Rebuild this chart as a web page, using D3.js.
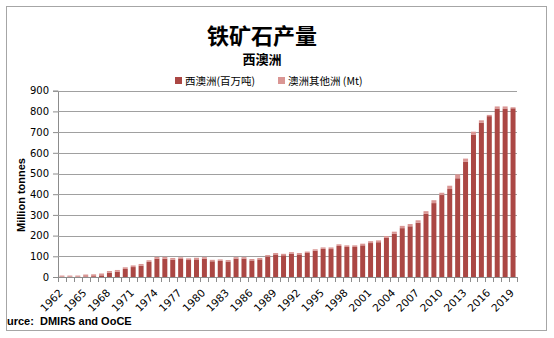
<!DOCTYPE html>
<html>
<head>
<meta charset="utf-8">
<script src="https://cdn.jsdelivr.net/npm/d3@7"></script>
<style>
  html, body { margin: 0; padding: 0; background: #fff; }
  svg { display: block; }
</style>
</head>
<body>
<svg id="chart" width="554" height="338"></svg>
<script>
// Iron ore production, Mt
const years = [1962,1963,1964,1965,1966,1967,1968,1969,1970,1971,1972,1973,1974,1975,1976,1977,1978,1979,1980,
  1981,1982,1983,1984,1985,1986,1987,1988,1989,1990,1991,1992,1993,1994,1995,1996,1997,1998,1999,2000,
  2001,2002,2003,2004,2005,2006,2007,2008,2009,2010,2011,2012,2013,2014,2015,2016,2017,2018,2019];

const waProduction = [1,1,1,3,4,8,21,26,39,48,55,73,88,88,84,87,82,85,88,
  76,78,75,89,89,80,85,99,109,105,113,109,116,127,136,135,150,145,145,153,
  164,168,189,209,236,245,262,305,357,396,425,477,556,688,746,777,814,814,815];

const otherStates = [6,6,6,9,9,9,8,8,8,8,8,8,9,9,8,8,8,8,8,
  7,7,7,7,7,7,7,7,7,7,7,7,7,7,7,8,8,8,8,8,
  9,9,9,10,11,11,12,13,14,11,16,19,16,14,11,6,10,10,5];

const seriesNames = ["西澳洲(百万吨)", "澳洲其他洲 (Mt)"];
const seriesColors = ["#AB4744", "#DA9694"];
const yTicks = [0,100,200,300,400,500,600,700,800,900];
const xTickLabels = [1962,1965,1968,1971,1974,1977,1980,1983,1986,1989,1992,1995,1998,2001,2004,2007,2010,2013,2016,2019];

const svg = d3.select("#chart");
const plot = { left: 58, right: 517, top: 90.7, bottom: 277 };

// outer frame
svg.append("rect")
  .attr("x", 6.5).attr("y", 6.5).attr("width", 540).attr("height", 324)
  .attr("fill", "#fff").attr("stroke", "#A6A6A6").attr("stroke-width", 1);

const x = d3.scaleBand()
  .domain(years)
  .range([plot.left, plot.right])
  .paddingInner(0.37)
  .paddingOuter(0.185);

const y = d3.scaleLinear().domain([0, 900]).range([plot.bottom, plot.top]);

// y axis with tick labels
const yAxis = svg.append("g")
  .attr("transform", `translate(${plot.left},0)`)
  .call(d3.axisLeft(y).tickValues(yTicks).tickSize(5).tickPadding(4).tickFormat(d3.format("d")));
yAxis.select(".domain").attr("stroke", "#8C8C8C");
yAxis.selectAll(".tick line").attr("stroke", "#8C8C8C");
yAxis.selectAll(".tick text")
  .attr("font-family", "DejaVu Sans, Verdana, sans-serif")
  .attr("font-size", 10).attr("fill", "#000");

// horizontal gridlines
svg.append("g").selectAll("line")
  .data(yTicks.filter(d => d > 0))
  .join("line")
  .attr("x1", plot.left).attr("x2", plot.right)
  .attr("y1", d => Math.round(y(d)) + 0.5).attr("y2", d => Math.round(y(d)) + 0.5)
  .attr("stroke", "#A0A0A0").attr("stroke-width", 1);

// stacked bars
const rows = years.map((yr, i) => ({ year: yr, wa: waProduction[i], other: otherStates[i] }));
const stack = d3.stack().keys(["wa", "other"])(rows);

svg.append("g").selectAll("g")
  .data(stack)
  .join("g")
  .attr("fill", (d, i) => seriesColors[i])
  .selectAll("rect")
  .data(d => d)
  .join("rect")
  .attr("x", d => x(d.data.year))
  .attr("width", x.bandwidth())
  .attr("y", d => y(d[1]))
  .attr("height", d => y(d[0]) - y(d[1]));

// x axis with ticks at category boundaries
const xa = svg.append("g");
xa.append("line")
  .attr("x1", plot.left).attr("x2", plot.right)
  .attr("y1", plot.bottom + 0.5).attr("y2", plot.bottom + 0.5)
  .attr("stroke", "#8C8C8C");
xa.selectAll("line.tk")
  .data(d3.range(years.length + 1))
  .join("line")
  .attr("class", "tk")
  .attr("x1", i => Math.round(plot.left + i * (plot.right - plot.left) / years.length) + 0.5)
  .attr("x2", i => Math.round(plot.left + i * (plot.right - plot.left) / years.length) + 0.5)
  .attr("y1", plot.bottom).attr("y2", plot.bottom + 5)
  .attr("stroke", "#8C8C8C");

xa.selectAll("text")
  .data(xTickLabels)
  .join("text")
  .attr("transform", d => `translate(${x(d) + x.bandwidth() / 2 - 1},${plot.bottom + 14}) rotate(-45)`)
  .attr("text-anchor", "end")
  .attr("dy", "0.35em")
  .attr("font-family", "DejaVu Sans, Verdana, sans-serif")
  .attr("font-size", 10.5)
  .text(d => d);

// y axis title
svg.append("text")
  .attr("transform", `translate(25,195) rotate(-90)`)
  .attr("text-anchor", "middle")
  .attr("font-family", "Liberation Sans, Arial, sans-serif")
  .attr("font-weight", "bold")
  .attr("font-size", 11)
  .text("Million tonnes");

// titles
svg.append("text")
  .attr("x", 262).attr("y", 44)
  .attr("text-anchor", "middle")
  .attr("font-family", "Noto Sans CJK SC, sans-serif")
  .attr("font-weight", "bold")
  .attr("font-size", 22)
  .text("铁矿石产量");

svg.append("text")
  .attr("x", 262).attr("y", 64)
  .attr("text-anchor", "middle")
  .attr("font-family", "Noto Sans CJK SC, sans-serif")
  .attr("font-weight", "bold")
  .attr("font-size", 13)
  .text("西澳洲");

// legend
const legendPos = [175, 278];
const lg = svg.append("g");
seriesNames.forEach((name, i) => {
  lg.append("rect")
    .attr("x", legendPos[i]).attr("y", 77).attr("width", 7).attr("height", 7)
    .attr("fill", seriesColors[i]);
  lg.append("text")
    .attr("x", legendPos[i] + 10).attr("y", 85)
    .attr("font-family", "Noto Sans CJK SC, sans-serif")
    .attr("font-size", 10.5)
    .text(name);
});

// source note along the bottom-left edge
svg.append("text")
  .attr("x", 7).attr("y", 325)
  .attr("font-family", "Liberation Sans, Arial, sans-serif")
  .attr("font-weight", "bold")
  .attr("font-size", 11)
  .attr("xml:space", "preserve")
  .text("urce:  DMIRS and OoCE");
</script>
</body>
</html>
